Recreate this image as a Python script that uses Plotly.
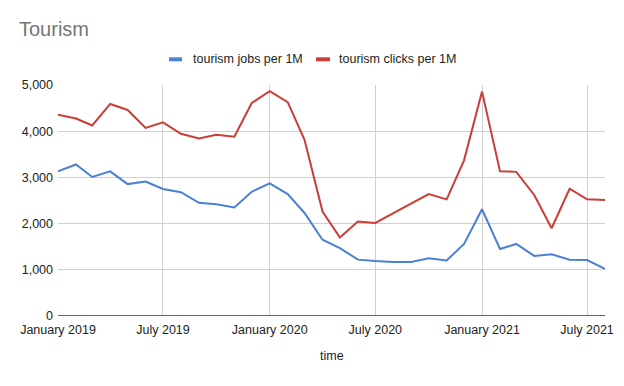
import plotly.graph_objects as go
import pandas as pd

months = pd.date_range("2019-01-01", "2021-08-01", freq="MS")

jobs = [3130, 3280, 3010, 3130, 2855, 2910, 2750, 2680, 2450, 2420, 2350, 2690,
        2870, 2640, 2230, 1650, 1470, 1220, 1190, 1170, 1170, 1250, 1200, 1560,
        2310, 1450, 1560, 1300, 1335, 1220, 1210, 1020]
clicks = [4355, 4275, 4125, 4590, 4460, 4070, 4190, 3945, 3840, 3925, 3880, 4610,
          4865, 4630, 3815, 2260, 1700, 2045, 2015, 2220, 2440, 2640, 2525, 3370,
          4857, 3135, 3120, 2620, 1900, 2755, 2525, 2510]

series_names = ["tourism jobs per 1M", "tourism clicks per 1M"]
series_colors = ["#4a80d6", "#cc3d36"]

tick_vals = ["2019-01-01", "2019-07-01", "2020-01-01", "2020-07-01", "2021-01-01", "2021-07-01"]
tick_text = ["January 2019", "July 2019", "January 2020", "July 2020", "January 2021", "July 2021"]

# Page body has an 8px margin, so the figure is laid out in shifted pixel coordinates.
W, H = 608, 370
L, R, T, B = 50, 11, 77, 62
PW, PH = W - L - R, H - T - B


def px(x):
    return (x - L) / PW


def py(y):
    return (H - B - y) / PH


fig = go.Figure()
for vals, name, col in zip([jobs, clicks], series_names, series_colors):
    fig.add_trace(go.Scatter(x=months, y=vals, mode="lines", name=name,
                             line=dict(color=col, width=2), showlegend=False))

font_fam = "Arial, Liberation Sans, sans-serif"
FS = 12.5
fig.update_layout(
    width=W, height=H,
    margin=dict(l=L, r=R, t=T, b=B, autoexpand=False),
    paper_bgcolor="white", plot_bgcolor="white",
    font=dict(family=font_fam, size=FS, color="#222222"),
    title=dict(text="Tourism", x=11 / W, xanchor="left", y=1 - 20.5 / H, yanchor="middle",
               font=dict(size=20, color="#757575")),
    showlegend=False,
    xaxis=dict(range=["2019-01-01", "2021-08-01"], tickvals=tick_vals, ticktext=tick_text,
               showgrid=True, gridcolor="#d0d0d0", gridwidth=1, zeroline=False,
               showline=False, ticks="", ticklabelstandoff=4,
               tickfont=dict(size=FS, color="#222222")),
    yaxis=dict(range=[0, 5000], tickvals=[0, 1000, 2000, 3000, 4000, 5000],
               tickformat=",", showgrid=True, gridcolor="#d0d0d0", gridwidth=1,
               zeroline=False, showline=False, ticks="", ticklabelstandoff=4,
               tickfont=dict(size=FS, color="#222222")),
)

# zero baseline
fig.add_shape(type="line", xref="paper", yref="y", x0=0, x1=1, y0=0, y1=0,
              line=dict(color="#333333", width=1.5))

# custom legend (short thick bars + labels)
legend_items = [(161, 174, 183), (308, 322, 329)]
for (b0, b1, tx), name, col in zip(legend_items, series_names, series_colors):
    fig.add_shape(type="rect", xref="paper", yref="paper",
                  x0=px(b0), x1=px(b1), y0=py(53.3), y1=py(49.3),
                  fillcolor=col, line=dict(width=0))
    fig.add_annotation(text=name, xref="paper", yref="paper", x=px(tx), y=py(51.3),
                       xanchor="left", yanchor="middle", showarrow=False,
                       font=dict(size=FS, color="#222222"))

# x axis title
fig.add_annotation(text="time", xref="paper", yref="paper", x=px(324), y=py(348),
                   xanchor="center", yanchor="middle", showarrow=False,
                   font=dict(size=FS, color="#222222"))

fig.write_html("out.html")
